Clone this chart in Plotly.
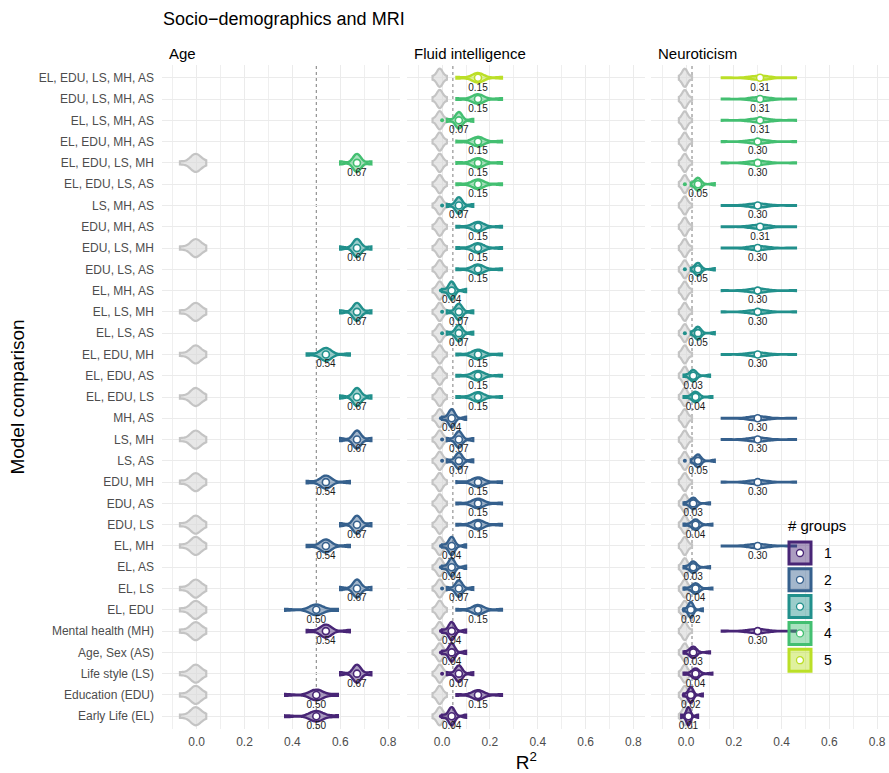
import plotly.graph_objects as go

title = "Socio\u2212demographics and MRI"
panels = ["Age", "Fluid intelligence", "Neuroticism"]

# model comparisons, listed top to bottom
models = [
    "EL, EDU, LS, MH, AS", "EDU, LS, MH, AS", "EL, LS, MH, AS", "EL, EDU, MH, AS",
    "EL, EDU, LS, MH", "EL, EDU, LS, AS", "LS, MH, AS", "EDU, MH, AS", "EDU, LS, MH",
    "EDU, LS, AS", "EL, MH, AS", "EL, LS, MH", "EL, LS, AS", "EL, EDU, MH",
    "EL, EDU, AS", "EL, EDU, LS", "MH, AS", "LS, MH", "LS, AS", "EDU, MH", "EDU, AS",
    "EDU, LS", "EL, MH", "EL, AS", "EL, LS", "EL, EDU", "Mental health (MH)",
    "Age, Sex (AS)", "Life style (LS)", "Education (EDU)", "Early Life (EL)",
]
n_groups = [5, 4, 4, 4, 4, 4, 3, 3, 3, 3, 3, 3, 3, 3, 3, 3,
            2, 2, 2, 2, 2, 2, 2, 2, 2, 2, 1, 1, 1, 1, 1]

# mean R^2 per model (None = model not fitted for that target)
age_r2 = [None, None, None, None, 0.67, None, None, None, 0.67, None, None, 0.67, None, 0.54,
          None, 0.67, None, 0.67, None, 0.54, None, 0.67, 0.54, None, 0.67, 0.50, 0.54,
          None, 0.67, 0.50, 0.50]
fi_r2 = [0.15, 0.15, 0.07, 0.15, 0.15, 0.15, 0.07, 0.15, 0.15, 0.15, 0.04, 0.07, 0.07, 0.15,
         0.15, 0.15, 0.04, 0.07, 0.07, 0.15, 0.15, 0.15, 0.04, 0.04, 0.07, 0.15, 0.04,
         0.04, 0.07, 0.15, 0.04]
neu_r2 = [0.31, 0.31, 0.31, 0.30, 0.30, 0.05, 0.30, 0.31, 0.30, 0.05, 0.30, 0.30, 0.05, 0.30,
          0.03, 0.04, 0.30, 0.30, 0.05, 0.30, 0.03, 0.04, 0.30, 0.03, 0.04, 0.02, 0.30,
          0.03, 0.04, 0.02, 0.01]

# observed range of the cross-validation distribution, keyed by mean R^2
age_extent = {0.67: (0.60, 0.73), 0.54: (0.46, 0.64), 0.50: (0.37, 0.59)}
fi_extent = {0.15: (0.06, 0.25), 0.07: (0.02, 0.13), 0.04: (0.00, 0.10)}
neu_extent = {0.31: (0.15, 0.46), 0.30: (0.15, 0.46), 0.05: (0.02, 0.12),
              0.04: (-0.01, 0.11), 0.03: (-0.01, 0.10), 0.02: (-0.01, 0.07),
              0.01: (-0.02, 0.05)}

# outlying fold values shown as single points, keyed by mean R^2
age_outlier = {}
fi_outlier = {0.07: 0.0, 0.04: -0.005}
neu_outlier = {0.05: -0.005, 0.04: -0.005, 0.03: -0.005, 0.02: -0.01, 0.01: -0.01}

# permutation (null) distributions per panel
null_center = [-0.005, -0.01, -0.005]
null_lo = [-0.07, -0.04, -0.03]
null_hi = [0.04, 0.02, 0.025]

# dashed reference line per panel
baseline = [0.50, 0.045, 0.025]

x_ticks = [0.0, 0.2, 0.4, 0.6, 0.8]
group_levels = [1, 2, 3, 4, 5]
group_colors = ["#482576", "#35608D", "#21908C", "#43BF71", "#BBDF27"]

# ---------------------------------------------------------------------------
W, H = 889, 773
ML, MR, MT, MB = 162, 0, 65, 44
PW, PH = W - ML - MR, H - MT - MB
domains = [[0.0, 0.3274], [0.3376, 0.6649], [0.6732, 1.0]]
XR = [-0.145, 0.85]
FONT = "Liberation Sans, Arial, sans-serif"


def rgba(hx, a):
    hx = hx.lstrip("#")
    r, g, b = int(hx[0:2], 16), int(hx[2:4], 16), int(hx[4:6], 16)
    return f"rgba({r},{g},{b},{a})"


fig = go.Figure()
panel_values = [age_r2, fi_r2, neu_r2]
panel_extents = [age_extent, fi_extent, neu_extent]
panel_outliers = [age_outlier, fi_outlier, neu_outlier]
CENTER_W = 6

for k in range(3):
    xa = "x" if k == 0 else f"x{k+1}"
    vals = panel_values[k]
    ext = panel_extents[k]
    outl = panel_outliers[k]
    # null violins
    for i, m in enumerate(models):
        if vals[i] is None:
            continue
        lo, hi, c = null_lo[k], null_hi[k], null_center[k]
        s = [lo] + [c] * CENTER_W + [hi]
        fig.add_trace(go.Violin(
            x=s, y=[m] * len(s), orientation="h", xaxis=xa, yaxis="y",
            line=dict(color="#C4C4C4", width=2.2), fillcolor="rgba(215,215,215,0.6)",
            points=False, spanmode="hard", bandwidth=(hi - lo) / 5,
            scalegroup=f"null{k}", scalemode="width",
            showlegend=False, hoverinfo="skip"))
    # model violins (area-scaled within a panel)
    mx, my, mc, mt = [], [], [], []
    ox, oy, oc = [], [], []
    for i, m in enumerate(models):
        v = vals[i]
        if v is None:
            continue
        col = group_colors[n_groups[i] - 1]
        lo, hi = ext[v]
        s = [lo] + [v] * CENTER_W + [hi]
        fig.add_trace(go.Violin(
            x=s, y=[m] * len(s), orientation="h", xaxis=xa, yaxis="y",
            line=dict(color=col, width=2.4), fillcolor=rgba(col, 0.45),
            points=False, spanmode="hard", bandwidth=(hi - lo) / 8,
            scalegroup=f"mod{k}", scalemode="width",
            showlegend=False, hoverinfo="skip"))
        mx.append(v); my.append(m); mc.append(col); mt.append(f"{v:.2f}")
        if v in outl:
            ox.append(outl[v]); oy.append(m); oc.append(col)
    if ox:
        fig.add_trace(go.Scatter(
            x=ox, y=oy, xaxis=xa, yaxis="y", mode="markers",
            marker=dict(size=4, color=oc, line=dict(width=0)),
            showlegend=False, hoverinfo="skip", cliponaxis=False))
    fig.add_trace(go.Scatter(
        x=mx, y=my, xaxis=xa, yaxis="y", mode="markers+text", text=mt,
        textposition="bottom center", textfont=dict(size=10, color="#1a1a1a", family=FONT),
        marker=dict(size=7, color="white", line=dict(color=mc, width=1.6)),
        showlegend=False, hoverinfo="skip", cliponaxis=False))

cat_order = list(reversed(models))

layout = dict(
    width=W, height=H, margin=dict(l=ML, r=MR, t=MT, b=MB),
    paper_bgcolor="white", plot_bgcolor="white",
    font=dict(family=FONT, color="#4D4D4D", size=12),
    violinmode="overlay", violingap=0.15, violingroupgap=0,
    title=dict(text=title, x=163 / W, xanchor="left", y=1 - 19 / H, yanchor="middle",
               xref="container", yref="container",
               font=dict(size=18, color="black", family=FONT)),
    yaxis=dict(type="category", categoryorder="array", categoryarray=cat_order,
               range=[-0.6, 30.6], showgrid=True, gridcolor="#EBEBEB", gridwidth=1.1,
               zeroline=False, ticks="", showline=False, anchor="x", automargin=False,
               tickfont=dict(size=12, color="#4D4D4D"), ticklabelstandoff=7,
               title=dict(text="Model comparison", font=dict(size=19, color="black"),
                          standoff=8)),
    showlegend=False,
)
for k in range(3):
    key = "xaxis" if k == 0 else f"xaxis{k+1}"
    minor_vals = [-0.1, 0.1, 0.3, 0.7] if k == 0 else [-0.1, 0.1, 0.3, 0.5, 0.7]
    layout[key] = dict(
        domain=domains[k], range=XR, anchor="y", tickmode="array",
        tickvals=x_ticks, ticktext=[f"{t:.1f}" for t in x_ticks],
        showgrid=True, gridcolor="#EBEBEB", gridwidth=1.1, zeroline=False,
        ticks="", showline=False, tickfont=dict(size=12, color="#4D4D4D"),
        ticklabelstandoff=4, automargin=False,
        minor=dict(tickvals=minor_vals, showgrid=True, gridcolor="#EFEFEF", gridwidth=0.8),
    )
layout["xaxis2"]["title"] = dict(text="R<sup>2</sup>", font=dict(size=19, color="black"),
                                 standoff=4)
fig.update_layout(**layout)

# facet titles and dashed reference lines
for k in range(3):
    xa = "x" if k == 0 else f"x{k+1}"
    fig.add_annotation(text=panels[k], xref=f"{xa} domain", yref="paper", x=0, y=1,
                       xanchor="left", yanchor="middle", xshift=5, yshift=12,
                       showarrow=False, font=dict(size=15, color="black", family=FONT))
    fig.add_shape(type="line", xref=xa, yref="paper", x0=baseline[k], x1=baseline[k],
                  y0=0, y1=1, layer="below",
                  line=dict(color="#5A5A5A", width=0.8, dash="3px,3px"))


# legend (# groups) drawn as keys in paper coordinates
def px2x(px):
    return (px - ML) / PW


def py2y(py):
    return (MT + PH - py) / PH


fig.add_annotation(text="# groups", xref="paper", yref="paper", x=px2x(786), y=py2y(525),
                   xanchor="left", yanchor="middle", showarrow=False,
                   font=dict(size=15, color="black", family=FONT))
for j, g in enumerate(group_levels):
    cy = 553 + 26.8 * j
    col = group_colors[j]
    fig.add_shape(type="rect", xref="paper", yref="paper", xsizemode="pixel",
                  ysizemode="pixel", xanchor=px2x(800), yanchor=py2y(cy),
                  x0=-11, x1=11, y0=-11, y1=11, fillcolor=rgba(col, 0.45),
                  line=dict(color=col, width=3), layer="above")
    fig.add_shape(type="circle", xref="paper", yref="paper", xsizemode="pixel",
                  ysizemode="pixel", xanchor=px2x(800), yanchor=py2y(cy),
                  x0=-3.5, x1=3.5, y0=-3.5, y1=3.5, fillcolor="white",
                  line=dict(color=col, width=1.3), layer="above")
    fig.add_annotation(text=str(g), xref="paper", yref="paper", x=px2x(822), y=py2y(cy),
                       xanchor="left", yanchor="middle", showarrow=False,
                       font=dict(size=14, color="black", family=FONT))

fig.write_html("out.html", config={"displayModeBar": False},
               post_script="document.body.style.margin='0px';")
